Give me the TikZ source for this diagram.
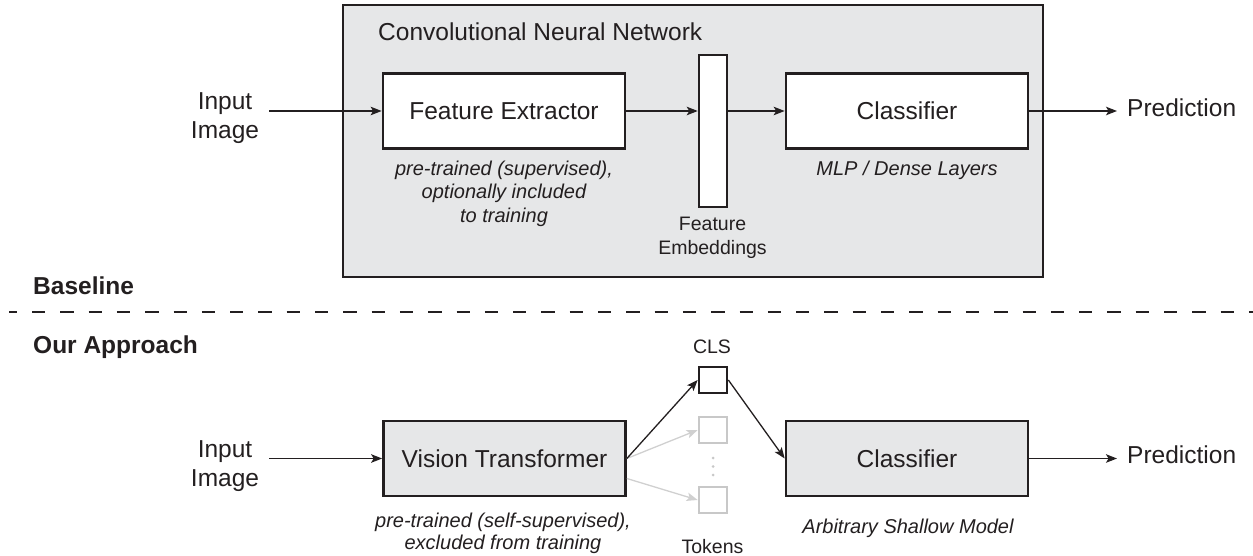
\documentclass[tikz,border=0pt]{standalone}
\usepackage{fontspec}
\setmainfont{Liberation Sans}
\usetikzlibrary{arrows.meta}
\definecolor{ink}{RGB}{35,31,32}
\definecolor{panel}{RGB}{230,231,232}
\definecolor{faint}{RGB}{200,200,200}
\definecolor{faintarrow}{RGB}{208,208,208}

\begin{document}
\begin{tikzpicture}[x=1pt,y=-1pt,
  block/.style={draw=ink, line width=2.7pt, minimum width=242pt, minimum height=75pt,
    inner sep=0pt, text=ink, font=\fontsize{24.5}{29}\selectfont},
  bigtext/.style={text=ink, font=\fontsize{24.5}{29}\selectfont, align=center},
  heading/.style={text=ink, font=\fontsize{24.5}{29}\selectfont\bfseries, inner sep=0pt, anchor=base west},
  note/.style={text=ink, font=\fontsize{20}{23.5}\selectfont\itshape, align=center, inner sep=0pt},
  smalltext/.style={text=ink, font=\fontsize{19.5}{24}\selectfont, align=center, inner sep=0pt},
  token/.style={draw=ink, fill=white, line width=2.7pt, minimum width=28pt, minimum height=26pt, inner sep=0pt},
  ghosttoken/.style={token, draw=faint},
  link/.style={draw=ink, line width=1.3pt, -{Stealth[length=11pt,width=8.5pt,inset=2.5pt]}},
  ghostlink/.style={link, draw=faintarrow},
]
\useasboundingbox (0,0) rectangle (1253,556);

% ---------------- Baseline: CNN pipeline ----------------
\node[draw=ink, fill=panel, line width=2.5pt, minimum width=700pt, minimum height=272pt, inner sep=0pt] (cnn) at (693,141) {};
\node[text=ink, font=\fontsize{24.5}{29}\selectfont, inner sep=0pt, anchor=base west] (cnntitle) at (378,41) {Convolutional Neural Network};

\node[block, fill=white] (fe) at (504,111) {Feature Extractor};
\node[draw=ink, fill=white, line width=2.5pt, minimum width=28pt, minimum height=152pt, inner sep=0pt] (emb) at (713,131) {};
\node[block, fill=white] (clf) at (907,111) {Classifier};

\node[bigtext, inner xsep=10pt] (in1) at (225,118.3) {Input\\Image};
\node[bigtext, inner xsep=10pt, inner ysep=0pt, anchor=base west] (out1) at (1117,117) {Prediction};

\node[note, anchor=north] (fenote) at (504,160.5) {pre-trained (supervised),\\optionally included\\to training};
\node[note, anchor=base] (clfnote) at (907,176) {MLP / Dense Layers};
\node[smalltext, anchor=north] (embnote) at (712.5,217) {Feature\\Embeddings};

\draw[link] (in1.east |- fe.west) -- (fe.west);
\draw[link] (fe.east) -- (fe.east -| emb.west);
\draw[link] (emb.east |- clf.west) -- (clf.west);
\draw[link] (clf.east) -- (clf.east -| out1.west);

% ---------------- Section labels and separator ----------------
\node[heading] (base) at (33,294) {Baseline};
\node[heading] (ours) at (33,353) {Our Approach};
\coordinate (sepL) at (9,312);
\coordinate (sepR) at (1253,312);
\draw[ink, line width=2.3pt, dash pattern=on 13.3pt off 15pt, dash phase=5.3pt] (sepL) -- (sepR);

% ---------------- Our approach: ViT pipeline ----------------
\node[block, fill=panel] (vt) at (504.5,458.5) {Vision Transformer};
\node[token] (cls) at (713,380) {};
\node[ghosttoken] (tok1) at (713,430) {};
\node[ghosttoken] (tok2) at (713,500) {};
\foreach \yy in {458,466.5,475} \fill[faint] (713,\yy) circle (1.5pt);
\node[block, fill=panel] (clf2) at (907,458.5) {Classifier};

\node[bigtext, inner xsep=10pt] (in2) at (225,466.3) {Input\\Image};
\node[bigtext, inner xsep=10pt, inner ysep=0pt, anchor=base west] (out2) at (1117,463) {Prediction};

\node[smalltext, anchor=base] (clslabel) at (712,353) {CLS};
\node[smalltext, anchor=base] (toklabel) at (712.5,553) {Tokens};
\node[note, anchor=north, font=\fontsize{20}{21.5}\selectfont\itshape] (vtnote) at (503,513) {pre-trained (self-supervised),\\excluded from training};
\node[note, anchor=base] (clf2note) at (908,533) {Arbitrary Shallow Model};

\coordinate (vtlow) at ([yshift=-20pt]vt.east);
\draw[link] (in2.east |- vt.west) -- (vt.west);
\draw[ghostlink] (vt.east) -- (tok1.west);
\draw[ghostlink] (vtlow) -- (tok2.west);
\draw[link] (vt.east) -- (cls.west);
\draw[link] (cls.east) -- (clf2.west);
\draw[link] (clf2.east) -- (clf2.east -| out2.west);
\end{tikzpicture}
\end{document}
